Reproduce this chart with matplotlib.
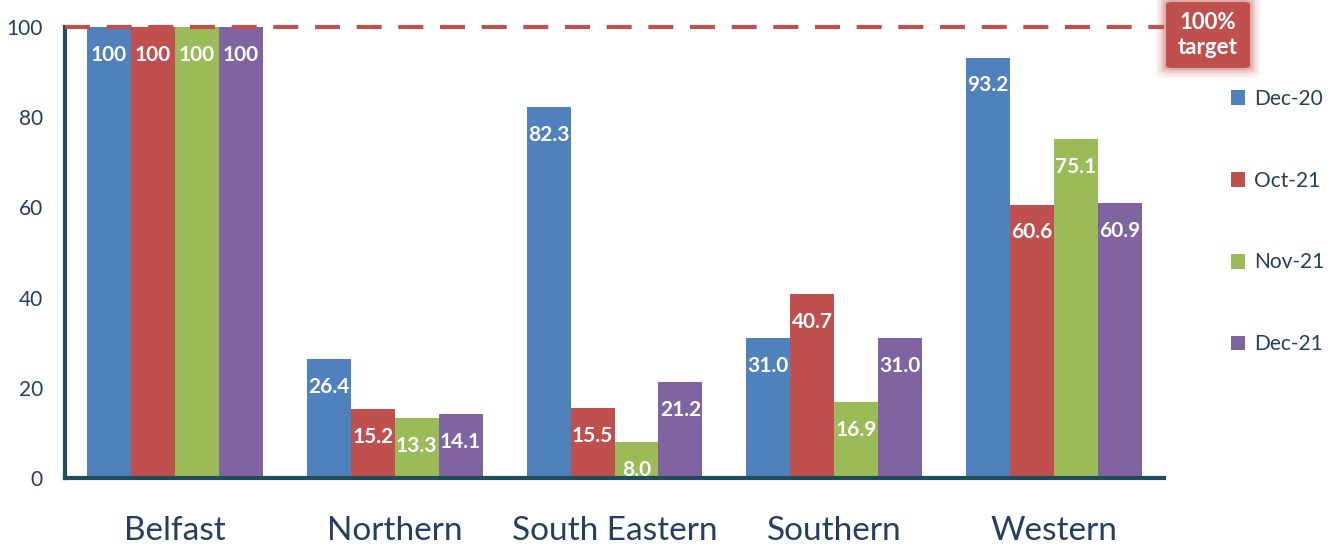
import numpy as np
import matplotlib.pyplot as plt
from matplotlib.patches import FancyBboxPatch

plt.rcParams['font.family'] = ['Lato', 'DejaVu Sans']

regions = ["Belfast", "Northern", "South Eastern", "Southern", "Western"]
series_names = ["Dec-20", "Oct-21", "Nov-21", "Dec-21"]
dec20 = [100, 26.4, 82.3, 31.0, 93.2]
oct21 = [100, 15.2, 15.5, 40.7, 60.6]
nov21 = [100, 13.3, 8.0, 16.9, 75.1]
dec21 = [100, 14.1, 21.2, 31.0, 60.9]
label_text = [
    ["100", "26.4", "82.3", "31.0", "93.2"],
    ["100", "15.2", "15.5", "40.7", "60.6"],
    ["100", "13.3", "8.0", "16.9", "75.1"],
    ["100", "14.1", "21.2", "31.0", "60.9"],
]
target = 100
colors = ["#4f81bd", "#c0504d", "#9bbb59", "#8064a2"]
axis_col = "#1f4e5a"
text_col = "#243f60"

fig = plt.figure(figsize=(13.34, 5.46), dpi=100)
ax = fig.add_axes([65 / 1334, 1 - 478 / 546, (1164 - 65) / 1334, (478 - 27) / 546])

x = np.arange(len(regions))
width = 0.2
all_series = [dec20, oct21, nov21, dec21]
for i, vals in enumerate(all_series):
    pos = x + (i - 1.5) * width
    ax.bar(pos, vals, width, color=colors[i], label=series_names[i], zorder=2)
    for p, v, t in zip(pos, vals, label_text[i]):
        ax.annotate(t, (p, v), xytext=(0, -20), textcoords='offset points',
                    ha='center', va='center', color='white', fontsize=15,
                    fontweight='bold', zorder=4)

ax.axhline(target, color="#c0504d", lw=3, dashes=(6, 4), zorder=3, clip_on=False)

ax.set_xlim(-0.5, 4.5)
ax.set_ylim(0, 100)
ax.set_yticks(range(0, 101, 20))
ax.set_xticks(x)
ax.set_xticklabels(regions, fontsize=24, color=text_col)
ax.tick_params(axis='y', length=0, labelsize=15, labelcolor=text_col, pad=16)
ax.tick_params(axis='x', length=0, pad=27)
for s in ['top', 'right']:
    ax.spines[s].set_visible(False)
for s in ['left', 'bottom']:
    ax.spines[s].set_color(axis_col)
    ax.spines[s].set_linewidth(3)

# target label box with soft glow
bx, by, bw, bh = 1166, 2, 84, 66
for k, a in enumerate([0.07, 0.1, 0.15, 0.25]):
    pad = 10 - 2.5 * k
    fig.patches.append(FancyBboxPatch(((bx - pad) / 1334, 1 - (by + bh + pad) / 546),
                                      (bw + 2 * pad) / 1334, (bh + 2 * pad) / 546,
                                      boxstyle="round,pad=0,rounding_size=0.008",
                                      transform=fig.transFigure, facecolor="#c0504d",
                                      edgecolor='none', alpha=a))
fig.patches.append(FancyBboxPatch((bx / 1334, 1 - (by + bh) / 546), bw / 1334, bh / 546,
                                  boxstyle="round,pad=0,rounding_size=0.005",
                                  transform=fig.transFigure, facecolor="#c0504d",
                                  edgecolor='none'))
fig.text((bx + bw / 2) / 1334, 1 - 35 / 546, "100%\ntarget", ha='center', va='center',
         color='white', fontsize=16, fontweight='bold', linespacing=1.25)

leg = fig.legend(loc='upper left', bbox_to_anchor=(1212 / 1334, 1 - 70 / 546),
                 frameon=False, fontsize=15, labelspacing=2.97, handlelength=0.7,
                 handleheight=0.7, handletextpad=0.4)
for t in leg.get_texts():
    t.set_color(text_col)

fig.savefig("out.png", dpi=100)
